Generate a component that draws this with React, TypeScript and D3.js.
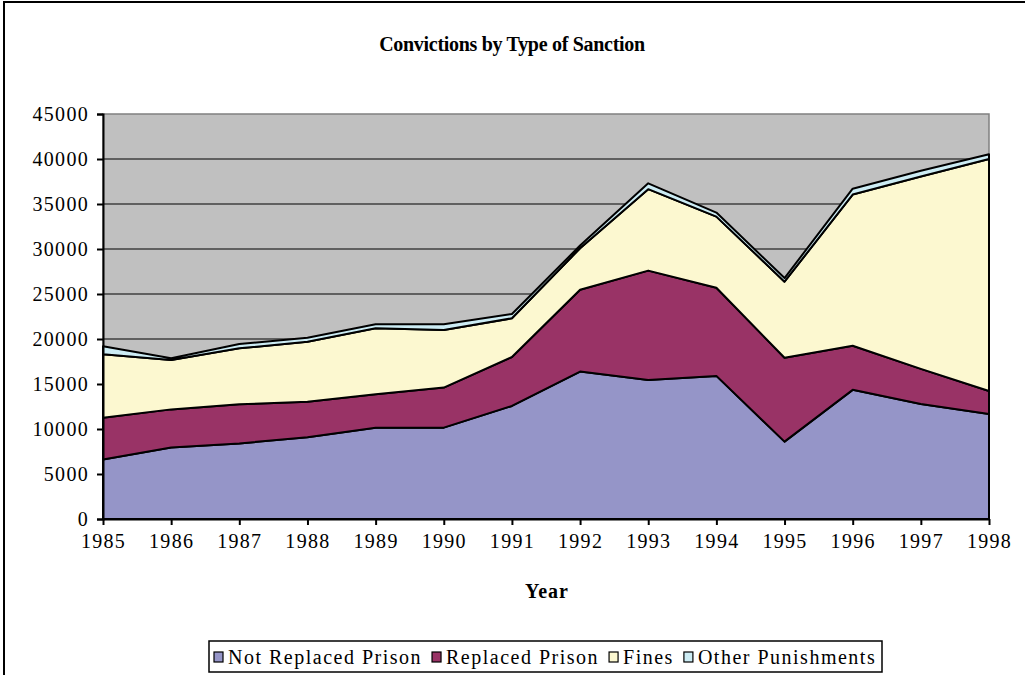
import { useEffect, useRef } from "react";
import * as d3 from "d3";

const years = [1985, 1986, 1987, 1988, 1989, 1990, 1991, 1992, 1993, 1994, 1995, 1996, 1997, 1998];
const seriesNames = ["Not Replaced Prison", "Replaced Prison", "Fines", "Other Punishments"];
const seriesColors = ["#9595C8", "#993366", "#FCF8D0", "#CCECF4"];

// values per series (not cumulative)
const notReplacedPrison = [6600, 7950, 8400, 9080, 10150, 10150, 12560, 16380, 15450, 15900, 8600, 14350, 12780, 11670];
const replacedPrison = [4660, 4230, 4340, 3950, 3700, 4450, 5440, 9100, 12150, 9800, 9320, 4900, 3900, 2550];
const fines = [7040, 5490, 6220, 6670, 7350, 6400, 4300, 4600, 9050, 7900, 8450, 16800, 21370, 25780];
const otherPunishments = [900, 200, 480, 450, 440, 630, 480, 300, 650, 450, 400, 650, 650, 520];

const yTicks = [0, 5000, 10000, 15000, 20000, 25000, 30000, 35000, 40000, 45000];

export default function App() {
  const ref = useRef<SVGSVGElement>(null);

  useEffect(() => {
    if (!ref.current) return;
    const root = d3.select(ref.current);
    root.selectAll("*").remove();

    const W = 1025;
    const H = 675;
    const plot = { left: 103, right: 989, top: 114, bottom: 519 };
    const font = "'Liberation Serif', 'Times New Roman', serif";

    root.attr("width", W).attr("height", H);

    // outer frame
    root.append("rect")
      .attr("x", 4).attr("y", 2).attr("width", W + 10).attr("height", H + 10)
      .attr("fill", "white").attr("stroke", "black").attr("stroke-width", 2);

    root.append("text")
      .attr("x", 512).attr("y", 51)
      .attr("text-anchor", "middle")
      .attr("font-family", font).attr("font-weight", "bold")
      .attr("font-size", 20).attr("letter-spacing", -0.3)
      .text("Convictions by Type of Sanction");

    const x = d3.scaleLinear().domain([years[0], years[years.length - 1]]).range([plot.left, plot.right]);
    const y = d3.scaleLinear().domain([0, 45000]).range([plot.bottom, plot.top]);

    // plot background
    root.append("rect")
      .attr("x", plot.left).attr("y", plot.top)
      .attr("width", plot.right - plot.left).attr("height", plot.bottom - plot.top)
      .attr("fill", "#C0C0C0").attr("stroke", "#808080").attr("stroke-width", 1.5);

    // grid
    root.append("g")
      .selectAll("line")
      .data(yTicks.filter((t) => t > 0 && t < 45000))
      .enter()
      .append("line")
      .attr("x1", plot.left).attr("x2", plot.right)
      .attr("y1", (d) => y(d)).attr("y2", (d) => y(d))
      .attr("stroke", "black").attr("stroke-width", 1.2);

    const table = years.map((yr, i) => ({
      year: yr,
      [seriesNames[0]]: notReplacedPrison[i],
      [seriesNames[1]]: replacedPrison[i],
      [seriesNames[2]]: fines[i],
      [seriesNames[3]]: otherPunishments[i],
    }));

    const stacked = d3.stack<any>().keys(seriesNames)(table);

    const area = d3.area<any>()
      .x((d) => x(d.data.year))
      .y0((d) => y(d[0]))
      .y1((d) => y(d[1]));

    root.append("g")
      .selectAll("path")
      .data(stacked)
      .enter()
      .append("path")
      .attr("d", (s) => area(s))
      .attr("fill", (_, i) => seriesColors[i])
      .attr("stroke", "black")
      .attr("stroke-width", 2)
      .attr("stroke-linejoin", "round");

    // axes
    const yAxis = root.append("g")
      .attr("transform", `translate(${plot.left},0)`)
      .call(d3.axisLeft(y).tickValues(yTicks).tickSize(6).tickFormat((d) => String(d)));
    yAxis.select(".domain").attr("stroke-width", 2);
    yAxis.selectAll(".tick line").attr("stroke-width", 2);
    yAxis.selectAll("text")
      .attr("font-family", font).attr("font-size", 20).attr("letter-spacing", 1.3)
      .attr("x", -14).attr("fill", "black");

    const xAxis = root.append("g")
      .attr("transform", `translate(0,${plot.bottom})`)
      .call(d3.axisBottom(x).tickValues(years).tickSize(6).tickSizeOuter(0).tickFormat((d) => String(d)));
    xAxis.select(".domain").attr("stroke-width", 2);
    xAxis.selectAll(".tick line").attr("stroke-width", 2);
    xAxis.selectAll("text")
      .attr("font-family", font).attr("font-size", 20).attr("letter-spacing", 1.3)
      .attr("y", 15).attr("fill", "black");

    root.append("text")
      .attr("x", 547).attr("y", 598)
      .attr("text-anchor", "middle")
      .attr("font-family", font).attr("font-weight", "bold")
      .attr("font-size", 20).attr("letter-spacing", 1)
      .text("Year");

    // legend, items laid out one after another
    const lg = root.append("g").attr("transform", "translate(209,641)");
    lg.append("rect")
      .attr("width", 673).attr("height", 31)
      .attr("fill", "white").attr("stroke", "black").attr("stroke-width", 1.5);
    let cursor = 5;
    seriesNames.forEach((name, i) => {
      const g = lg.append("g").attr("transform", `translate(${cursor},0)`);
      g.append("rect")
        .attr("x", 0).attr("y", 11).attr("width", 9).attr("height", 10)
        .attr("fill", seriesColors[i]).attr("stroke", "black").attr("stroke-width", 1.2);
      const t = g.append("text")
        .attr("x", 14).attr("y", 23)
        .attr("font-family", font).attr("font-size", 20).attr("letter-spacing", 1.5)
        .text(name);
      const w = (t.node() as SVGTextElement).getComputedTextLength();
      cursor += 14 + w + 10;
    });
  }, []);

  return (
    <svg ref={ref} style={{ position: "absolute", left: 0, top: 0, display: "block" }}></svg>
  );
}
